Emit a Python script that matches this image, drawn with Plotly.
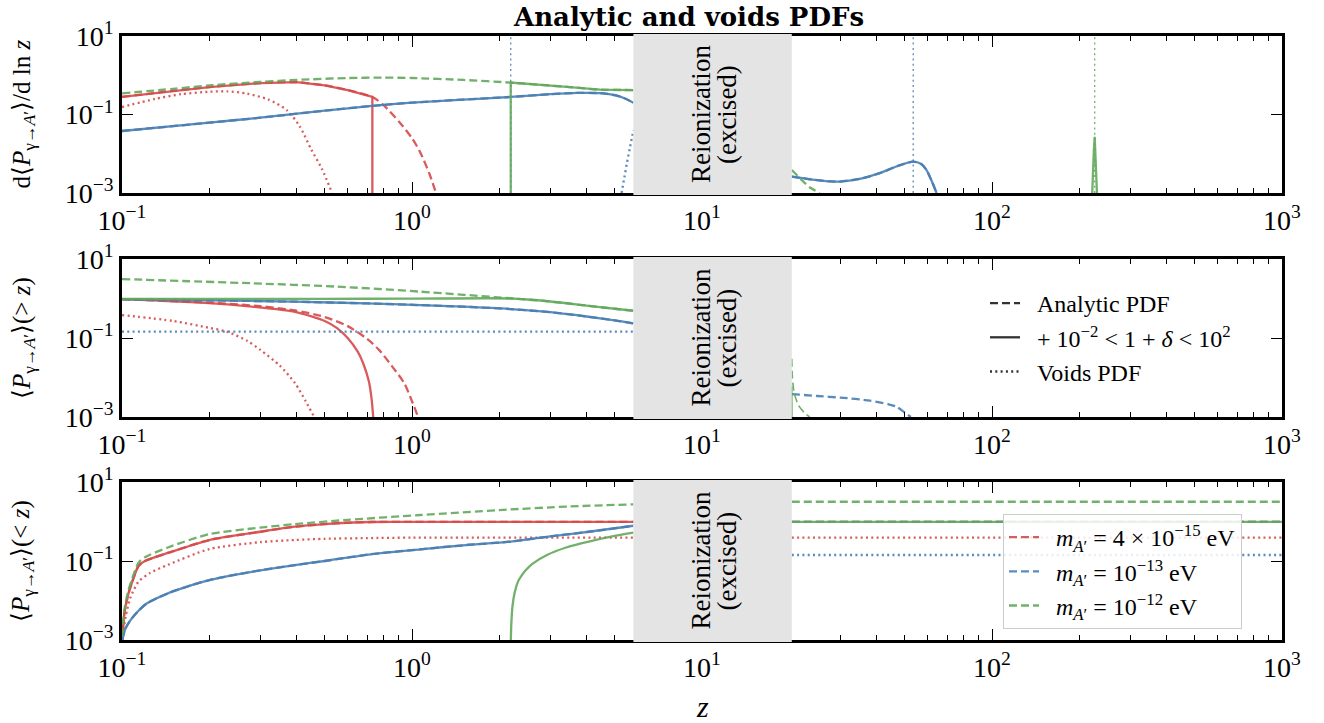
import math
import plotly.graph_objects as go

W, H = 1324, 723
FONT = "Liberation Serif"
RED, BLUE, GREEN = "#d64a4a", "#4a7fb3", "#62a95b"
DASH, DOT = "8px,4px", "2px,3.3px"


def px(x):
    return x / W


def py(y):
    return 1 - y / H


# ---------------- axes / ticks ----------------
x_tickvals = [0.1, 1, 10, 100, 1000]
x_ticktext = ["10<sup>−1</sup>", "10<sup>0</sup>", "10<sup>1</sup>", "10<sup>2</sup>", "10<sup>3</sup>"]
y_tickvals = [1e-3, 1e-1, 10]
y_ticktext = ["10<sup>−3</sup>", "10<sup>−1</sup>", "10<sup>1</sup>"]
reion_band = [5.8, 20.4]

# ---------------- panel 1: d<P>/d ln z ----------------
p1_red_dash_z = [0.1, 0.15, 0.2, 0.3, 0.4, 0.5, 0.6, 0.73, 0.8, 0.91, 1.0, 1.07, 1.15, 1.21]
p1_red_dash_v = [0.28, 0.40, 0.50, 0.63, 0.67, 0.55, 0.42, 0.28, 0.17, 0.061, 0.025, 0.0105, 0.003, 0.001]
p1_red_solid_z = [0.1, 0.15, 0.2, 0.3, 0.4, 0.5, 0.6, 0.73, 0.73]
p1_red_solid_v = [0.28, 0.40, 0.50, 0.63, 0.67, 0.55, 0.42, 0.28, 1e-5]
p1_red_dot_z = [0.1, 0.13, 0.16, 0.2, 0.23, 0.27, 0.32, 0.37, 0.41, 0.45, 0.49, 0.53]
p1_red_dot_v = [0.155, 0.25, 0.33, 0.38, 0.39, 0.34, 0.24, 0.13, 0.05, 0.0126, 0.004, 0.001]
p1_blue_z = [0.1, 0.2, 0.3, 0.5, 0.73, 1.0, 1.5, 2.19, 3.0, 3.7, 4.45, 5.0, 5.4, 5.8]
p1_blue_v = [0.038, 0.062, 0.083, 0.125, 0.166, 0.20, 0.24, 0.28, 0.33, 0.355, 0.35, 0.31, 0.26, 0.20]
p1_blue_hi_z = [20.4, 24, 29, 35, 41, 47, 53.5, 57, 59.4, 62, 64.4]
p1_blue_hi_v = [0.0026, 0.0022, 0.00194, 0.0023, 0.0032, 0.0048, 0.0063, 0.0055, 0.0039, 0.002, 0.001]
p1_blue_dot_z = [5.28, 5.4, 5.51, 5.65, 5.8]
p1_blue_dot_v = [0.001, 0.0025, 0.0058, 0.015, 0.04]
p1_green_dash_z = [0.1, 0.15, 0.2, 0.3, 0.4, 0.6, 0.8, 1.0, 1.5, 2.19, 3.5, 4.45, 5.8]
p1_green_dash_v = [0.347, 0.45, 0.55, 0.68, 0.76, 0.85, 0.87, 0.85, 0.76, 0.65, 0.50, 0.43, 0.42]
p1_green_hi_dash_z = [20.4, 22, 23.5, 25.5]
p1_green_hi_dash_v = [0.00385, 0.0022, 0.0014, 0.001]
p1_green_solid_z = [2.19, 2.19, 3.5, 4.45, 5.8]
p1_green_solid_v = [1e-5, 0.65, 0.50, 0.43, 0.42]
p1_green_spike_z = [219, 222, 224.5, 226, 227.5, 230, 233]
p1_green_spike_v = [1e-4, 0.003, 0.012, 0.027, 0.012, 0.003, 1e-4]
p1_blue_res_z = [2.19, 53.5]
p1_green_res_z = [226]

# ---------------- panel 2: <P>(> z) ----------------
p2_red_solid_z = [0.1, 0.2, 0.28, 0.395, 0.5, 0.55, 0.6, 0.65, 0.68, 0.71, 0.725, 0.735]
p2_red_solid_v = [0.96, 0.76, 0.62, 0.46, 0.27, 0.18, 0.1, 0.045, 0.022, 0.008, 0.003, 0.001]
p2_red_dash_z = [0.1, 0.2, 0.3, 0.395, 0.5, 0.6, 0.7, 0.77, 0.85, 0.94, 1.0, 1.05]
p2_red_dash_v = [0.96, 0.78, 0.64, 0.5, 0.34, 0.2, 0.095, 0.05, 0.02, 0.0072, 0.0025, 0.001]
p2_red_dot_z = [0.1, 0.15, 0.2, 0.23, 0.27, 0.3, 0.35, 0.395, 0.43, 0.46]
p2_red_dot_v = [0.38, 0.27, 0.18, 0.145, 0.085, 0.05, 0.02, 0.0072, 0.0025, 0.001]
p2_blue_z = [0.1, 0.2, 0.395, 0.7, 1.07, 1.5, 2.19, 3, 4, 5, 5.8]
p2_blue_v = [0.96, 0.9, 0.83, 0.75, 0.68, 0.62, 0.54, 0.45, 0.35, 0.28, 0.235]
p2_blue_dot_z = [0.1, 5.8]
p2_blue_dot_v = [0.145, 0.145]
p2_blue_hi_z = [20.4, 25, 30, 38, 44, 47, 50, 52.5]
p2_blue_hi_v = [0.0038, 0.0034, 0.0031, 0.0026, 0.0021, 0.0018, 0.0013, 0.001]
p2_green_dash_z = [0.1, 0.28, 0.55, 1.07, 2.19, 3, 4, 5, 5.8]
p2_green_dash_v = [3.1, 2.43, 2.0, 1.49, 1.01, 0.84, 0.66, 0.55, 0.49]
p2_green_solid_z = [0.1, 0.5, 1.0, 2.19, 3, 4, 5, 5.8]
p2_green_solid_v = [0.97, 0.98, 0.99, 1.0, 0.84, 0.66, 0.55, 0.49]
p2_green_hi_dash_z = [20.4, 20.5, 20.8, 21.5, 22.5, 23.5]
p2_green_hi_dash_v = [0.03, 0.01, 0.004, 0.002, 0.0013, 0.001]
p2_green_hi_solid_z = [20.4, 20.45]
p2_green_hi_solid_v = [0.006, 1e-4]

# ---------------- panel 3: <P>(< z) ----------------
p3_red_z = [0.1001, 0.102, 0.105, 0.108, 0.114, 0.12, 0.144, 0.2, 0.3, 0.395, 0.5, 0.6, 0.72, 1.0, 2.0, 5.8]
p3_red_v = [0.001, 0.005, 0.014, 0.027, 0.075, 0.1, 0.16, 0.34, 0.55, 0.74, 0.86, 0.93, 0.97, 0.98, 0.98, 0.98]
p3_red_dot_z = [0.1001, 0.103, 0.107, 0.114, 0.125, 0.144, 0.2, 0.3, 0.395, 0.5, 0.7, 1.0, 5.8]
p3_red_dot_v = [0.001, 0.004, 0.012, 0.03, 0.05, 0.08, 0.2, 0.3, 0.34, 0.365, 0.38, 0.39, 0.39]
p3_blue_z = [0.1001, 0.103, 0.107, 0.114, 0.122, 0.144, 0.16, 0.175, 0.2, 0.25, 0.3, 0.395, 0.5, 0.72,
             1.07, 1.5, 2.19, 3.0, 4.07, 5.8]
p3_blue_v = [0.001, 0.002, 0.0032, 0.0055, 0.0085, 0.0152, 0.02, 0.025, 0.033, 0.046, 0.058, 0.079, 0.1,
             0.148, 0.198, 0.25, 0.31, 0.42, 0.55, 0.78]
p3_green_dash_z = [0.1001, 0.102, 0.105, 0.108, 0.114, 0.12, 0.144, 0.2, 0.3, 0.395, 0.6, 1.07, 2.0, 3.5, 5.8]
p3_green_dash_v = [0.0012, 0.006, 0.017, 0.033, 0.09, 0.125, 0.22, 0.48, 0.7, 0.86, 1.1, 1.46, 1.95, 2.4, 2.72]
p3_green_solid_z = [2.19, 2.2, 2.22, 2.26, 2.32, 2.4, 2.47, 2.6, 2.92, 3.4, 4.07, 5.0, 5.8]
p3_green_solid_v = [0.0008, 0.0025, 0.007, 0.016, 0.03, 0.045, 0.059, 0.085, 0.142, 0.22, 0.31, 0.43, 0.52]
p3_hi_z = [20.4, 1000]
p3_red_hi_v = [0.98, 0.98]
p3_red_dot_hi_v = [0.39, 0.39]
p3_blue_hi_v = [0.98, 0.98]
p3_blue_dot_hi_v = [0.142, 0.142]
p3_green_dash_hi_v = [3.16, 3.16]
p3_green_solid_hi_v = [0.98, 0.98]

legend_masses = ["<i>m</i><sub><i>A</i>′</sub> = 4 × 10<sup>−15</sup> eV",
                 "<i>m</i><sub><i>A</i>′</sub> = 10<sup>−13</sup> eV",
                 "<i>m</i><sub><i>A</i>′</sub> = 10<sup>−12</sup> eV"]
legend_styles = ["Analytic PDF", "+ 10<sup>−2</sup> &lt; 1 + <i>δ</i> &lt; 10<sup>2</sup>", "Voids PDF"]

# ---------------- figure ----------------
fig = go.Figure()


def add(panel, z, v, color, dash="solid", width=2.3, opacity=0.9, smooth=True):
    sfx = "" if panel == 1 else str(panel)
    line = dict(color=color, dash=dash, width=width)
    if smooth and len(z) > 2:
        line.update(shape="spline", smoothing=0.7)
    fig.add_trace(go.Scatter(x=z, y=v, mode="lines", xaxis="x" + sfx, yaxis="y" + sfx,
                             line=line, opacity=opacity, showlegend=False, hoverinfo="skip"))


# panel 1
add(1, p1_red_dash_z, p1_red_dash_v, RED, DASH)
add(1, p1_red_solid_z, p1_red_solid_v, RED, smooth=False)
add(1, p1_red_dot_z, p1_red_dot_v, RED, DOT)
add(1, p1_blue_z, p1_blue_v, BLUE, DASH)
add(1, p1_blue_z, p1_blue_v, BLUE)
add(1, p1_blue_hi_z, p1_blue_hi_v, BLUE, DASH)
add(1, p1_blue_hi_z, p1_blue_hi_v, BLUE)
add(1, p1_blue_dot_z, p1_blue_dot_v, BLUE, DOT)
for zr in p1_blue_res_z:
    add(1, [zr, zr], [1e-3, 10], BLUE, DOT, 1.3)
for zr in p1_green_res_z:
    add(1, [zr, zr], [1e-3, 10], GREEN, DOT, 1.3)
add(1, p1_green_dash_z, p1_green_dash_v, GREEN, DASH)
add(1, p1_green_hi_dash_z, p1_green_hi_dash_v, GREEN, DASH)
add(1, p1_green_solid_z, p1_green_solid_v, GREEN, smooth=False)
add(1, p1_green_spike_z, p1_green_spike_v, GREEN, smooth=False)

# panel 2
add(2, p2_red_dash_z, p2_red_dash_v, RED, DASH)
add(2, p2_red_solid_z, p2_red_solid_v, RED)
add(2, p2_red_dot_z, p2_red_dot_v, RED, DOT)
add(2, p2_blue_z, p2_blue_v, BLUE, DASH)
add(2, p2_blue_z, p2_blue_v, BLUE)
add(2, p2_blue_dot_z, p2_blue_dot_v, BLUE, DOT)
add(2, p2_blue_hi_z, p2_blue_hi_v, BLUE, DASH)
add(2, p2_green_dash_z, p2_green_dash_v, GREEN, DASH)
add(2, p2_green_solid_z, p2_green_solid_v, GREEN)
add(2, p2_green_hi_dash_z, p2_green_hi_dash_v, GREEN, DASH, 1.6)
add(2, p2_green_hi_solid_z, p2_green_hi_solid_v, GREEN, "solid", 1.6)

# panel 3
add(3, p3_red_z, p3_red_v, RED, DASH)
add(3, p3_red_z, p3_red_v, RED)
add(3, p3_red_dot_z, p3_red_dot_v, RED, DOT)
add(3, p3_blue_z, p3_blue_v, BLUE, DASH)
add(3, p3_blue_z, p3_blue_v, BLUE)
add(3, p3_green_dash_z, p3_green_dash_v, GREEN, DASH)
add(3, p3_green_solid_z, p3_green_solid_v, GREEN)
add(3, p3_hi_z, p3_red_hi_v, RED, DASH)
add(3, p3_hi_z, p3_red_dot_hi_v, RED, DOT)
add(3, p3_hi_z, p3_blue_hi_v, BLUE, DASH)
add(3, p3_hi_z, p3_blue_dot_hi_v, BLUE, DOT)
add(3, p3_hi_z, p3_green_dash_hi_v, GREEN, DASH)
add(3, p3_hi_z, p3_green_solid_hi_v, GREEN)

# legend 1 (line styles)
for name, dsh in zip(legend_styles, [DASH, "solid", DOT]):
    fig.add_trace(go.Scatter(x=[None], y=[None], mode="lines", xaxis="x2", yaxis="y2",
                             line=dict(color="#333333", dash=dsh, width=2.3),
                             name="&nbsp;&nbsp;" + name, legend="legend", legendgroup=name))
# legend 2 (masses)
for name, col in zip(legend_masses, [RED, BLUE, GREEN]):
    fig.add_trace(go.Scatter(x=[None], y=[None], mode="lines", xaxis="x3", yaxis="y3",
                             line=dict(color=col, dash=DASH, width=2.3), opacity=0.9,
                             name="&nbsp;&nbsp;" + name, legend="legend2", legendgroup=name))

# ---------------- layout ----------------
x_dom = [px(122), px(1282)]
y_doms = [[py(193), py(36)], [py(417), py(259)], [py(640), py(482)]]
minor_x = [m * 10 ** e for e in range(-1, 3) for m in range(2, 10)]

layout = dict(width=W, height=H, margin=dict(l=0, r=0, t=0, b=0, autoexpand=False),
              plot_bgcolor="white", paper_bgcolor="white",
              font=dict(family=FONT, size=26, color="black"))
for i in range(3):
    sfx = "" if i == 0 else str(i + 1)
    layout["xaxis" + sfx] = dict(domain=x_dom, type="log", range=[-1, 3], anchor="y" + sfx,
                                 automargin=False,
                                 showline=True, linewidth=2.8, linecolor="black", mirror="allticks",
                                 ticks="inside", ticklen=11, tickwidth=1.4, tickcolor="black",
                                 tickmode="array", tickvals=x_tickvals, ticktext=x_ticktext,
                                 tickfont=dict(family=FONT, size=28), showgrid=False, zeroline=False,
                                 minor=dict(tickmode="array", tickvals=minor_x, ticks="inside",
                                            ticklen=5, tickwidth=1.1, tickcolor="black", showgrid=False))
    layout["yaxis" + sfx] = dict(domain=y_doms[i], type="log", range=[-3, 1], anchor="x" + sfx,
                                 automargin=False,
                                 showline=True, linewidth=2.8, linecolor="black", mirror="allticks",
                                 ticks="inside", ticklen=11, tickwidth=1.4, tickcolor="black",
                                 tickmode="array", tickvals=y_tickvals, ticktext=y_ticktext,
                                 tickfont=dict(family=FONT, size=28), showgrid=False, zeroline=False)

layout["legend"] = dict(x=px(985), y=py(281), xanchor="left", yanchor="top",
                        bgcolor="rgba(0,0,0,0)", borderwidth=0, traceorder="grouped",
                        tracegroupgap=0, font=dict(family=FONT, size=24))
layout["legend2"] = dict(x=px(1003), y=py(514), xanchor="left", yanchor="top",
                         bgcolor="rgba(255,255,255,0.85)", bordercolor="#cccccc", borderwidth=1,
                         traceorder="grouped", tracegroupgap=0, font=dict(family=FONT, size=24))

shapes, annotations = [], []
band_mid = math.log10(math.sqrt(reion_band[0] * reion_band[1]))
for i in range(3):
    sfx = "" if i == 0 else str(i + 1)
    shapes.append(dict(type="rect", xref="x" + sfx, yref="y" + sfx + " domain",
                       x0=reion_band[0], x1=reion_band[1], y0=-0.012, y1=1.012,
                       fillcolor="#e4e4e4", line=dict(width=0), layer="above"))
    for txt, shift in [("Reionization", -12), ("(excised)", 14)]:
        annotations.append(dict(xref="x" + sfx, yref="y" + sfx + " domain", x=band_mid, y=0.5,
                                xshift=shift, text=txt, textangle=-90, showarrow=False,
                                font=dict(family=FONT, size=27), xanchor="center", yanchor="middle"))

ylabels = ["d⟨<i>P</i><sub>γ→<i>A</i>′</sub>⟩/d ln <i>z</i>",
           "⟨<i>P</i><sub>γ→<i>A</i>′</sub>⟩(&gt; <i>z</i>)",
           "⟨<i>P</i><sub>γ→<i>A</i>′</sub>⟩(&lt; <i>z</i>)"]
for i, lab in enumerate(ylabels):
    annotations.append(dict(xref="paper", yref="paper", x=px(23), y=sum(y_doms[i]) / 2, text=lab,
                            textangle=-90, showarrow=False, font=dict(family=FONT, size=25),
                            xanchor="center", yanchor="middle"))
annotations.append(dict(xref="paper", yref="paper", x=px(688), y=py(17),
                        text="<b>Analytic and voids PDFs</b>", showarrow=False,
                        font=dict(family="DejaVu Serif", size=26), xanchor="center", yanchor="middle"))
annotations.append(dict(xref="paper", yref="paper", x=px(702), y=py(706),
                        text="<i>z</i>", showarrow=False, font=dict(family=FONT, size=30),
                        xanchor="center", yanchor="middle"))
layout["shapes"] = shapes
layout["annotations"] = annotations
fig.update_layout(**layout)
# remove the default 8px page margin so the figure sits at the window's top-left corner
fig.write_html("out.html", config={"displayModeBar": False},
               post_script="document.body.style.margin='0px';")
